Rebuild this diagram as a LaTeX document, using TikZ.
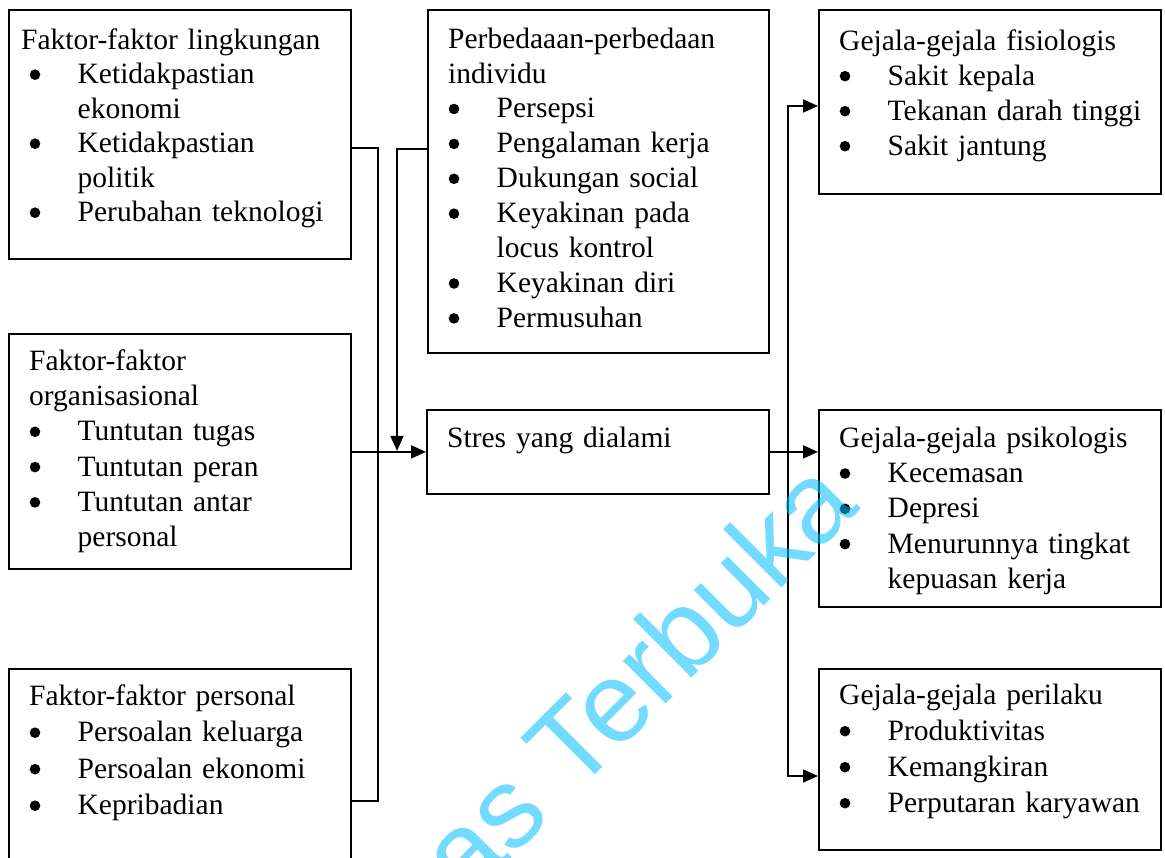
\documentclass[tikz,border=0pt]{standalone}
\usepackage{fontspec}
\setmainfont{Liberation Serif}[WordSpace=0.85]
\newfontfamily\wmfont{Liberation Sans}
\usetikzlibrary{arrows.meta}
\definecolor{wmblue}{RGB}{0,190,255}
\newcommand\bdot{\tikz[baseline=0pt]\fill (5.5pt,9pt) circle[radius=5.3pt];}
\newcommand\bi[1]{\makebox[48.5pt][l]{\hspace{0.5pt}\bdot}#1}
\newcommand\bc[1]{\hspace*{48.5pt}#1}
\newcommand\st{\rule{0pt}{26pt}}
\tikzset{
  box/.style={draw, line width=1.8pt, rectangle, inner sep=0pt, anchor=north west},
  txt/.style={anchor=north west, inner sep=0pt, text width=330pt, align=left,
              font=\fontsize{29.5pt}{#1}\selectfont},
  conn/.style={line width=1.8pt},
  arr/.style={conn, -{Triangle[length=15pt,width=13pt]}},
}
\begin{document}
\begin{tikzpicture}[x=1pt,y=-1pt]
\useasboundingbox (0,0) rectangle (1165,858);
\fill[white] (0,0) rectangle (1165,858);
\clip (0,0) rectangle (1165,858);
% boxes
\node[box, minimum width=342pt, minimum height=249pt] (b1) at (8,9) {};
\node[box, minimum width=342pt, minimum height=235pt] (b2) at (8,333) {};
\node[box, minimum width=342pt, minimum height=220pt] (b3) at (8,668) {};
\node[box, minimum width=341pt, minimum height=343pt] (b4) at (427,9) {};
\node[box, minimum width=342pt, minimum height=84pt] (b5) at (426,409) {};
\node[box, minimum width=342pt, minimum height=184pt] (b6) at (818,9) {};
\node[box, minimum width=342pt, minimum height=197pt] (b7) at (818,409) {};
\node[box, minimum width=342pt, minimum height=181pt] (b8) at (818,668) {};
% texts
\node[txt=34.5pt] (t1) at (29,23) {\st\hspace*{-8pt}Faktor-faktor lingkungan\\
  \bi{Ketidakpastian}\\ \bc{ekonomi}\\ \bi{Ketidakpastian}\\ \bc{politik}\\
  \bi{Perubahan teknologi}};
\node[txt=35.3pt] (t2) at (29,344) {\st Faktor-faktor\\ organisasional\\
  \bi{Tuntutan tugas}\\ \bi{Tuntutan peran}\\ \bi{Tuntutan antar}\\ \bc{personal}};
\node[txt=36.5pt] (t3) at (29,679) {\st Faktor-faktor personal\\
  \bi{Persoalan keluarga}\\ \bi{Persoalan ekonomi}\\ \bi{Kepribadian}};
\node[txt=34.9pt] (t4) at (448,22) {\st Perbedaaan-perbedaan\\ individu\\
  \bi{Persepsi}\\ \bi{Pengalaman kerja}\\ \bi{Dukungan social}\\
  \bi{Keyakinan pada}\\ \bc{locus kontrol}\\ \bi{Keyakinan diri}\\ \bi{Permusuhan}};
\node[txt=35pt] (t5) at (447,421) {\st Stres yang dialami};
\node[txt=35pt] (t6) at (839,24) {\st Gejala-gejala fisiologis\\
  \bi{Sakit kepala}\\ \bi{Tekanan darah tinggi}\\ \bi{Sakit jantung}};
\node[txt=35.3pt] (t7) at (839,421) {\st Gejala-gejala psikologis\\
  \bi{Kecemasan}\\ \bi{Depresi}\\ \bi{Menurunnya tingkat}\\ \bc{kepuasan kerja}};
\node[txt=36pt] (t8) at (839,678) {\st Gejala-gejala perilaku\\
  \bi{Produktivitas}\\ \bi{Kemangkiran}\\ \bi{Perputaran karyawan}};
% connectors
\coordinate (j1) at (378,148);
\coordinate (j2) at (378,801);
\draw[conn] (b1.east |- j1) -- (j1) -- (j2) -- (b3.east |- j2);
\draw[arr] (b5.west -| b2.east) -- (b5.west);
\coordinate (j3) at (397,149);
\draw[arr, shorten >=1pt] (b4.west |- j3) -- (j3) -- (j3 |- b5.west);
\draw[arr] (b5.east) -- (b5.east -| b7.west);
\coordinate (j4) at (788,451);
\coordinate (j5) at (788,106);
\coordinate (j6) at (788,776);
\draw[arr] (j4) -- (j5) -- (j5 -| b6.west);
\draw[arr] (j4) -- (j6) -- (j6 -| b8.west);
% watermark
\node[rotate=45, anchor=base east, inner sep=0pt, text=wmblue, text opacity=0.55,
      font=\wmfont\fontsize{114pt}{114pt}\selectfont] (wm) at (862,508) {Universitas Terbuka};
\end{tikzpicture}
\end{document}
